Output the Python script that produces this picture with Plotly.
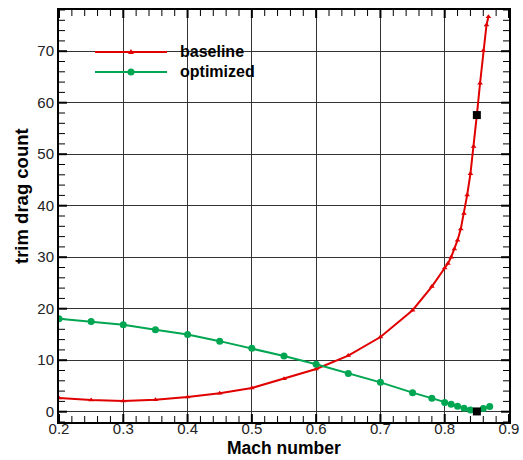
import plotly.graph_objects as go

# --- data ---
mach_base = [0.20, 0.25, 0.30, 0.35, 0.40, 0.45, 0.50, 0.55, 0.60, 0.65, 0.70, 0.75, 0.78,
             0.80, 0.805, 0.81, 0.815, 0.82, 0.825, 0.83, 0.835, 0.84, 0.845, 0.85,
             0.855, 0.86, 0.865, 0.868]
drag_base = [2.65, 2.26, 2.07, 2.3, 2.84, 3.6, 4.6, 6.4, 8.3, 10.9, 14.5, 19.7, 24.3,
             27.9, 28.8, 30.0, 31.6, 33.3, 35.5, 38.5, 42.1, 46.2, 51.5, 57.6,
             63.8, 70.1, 75.1, 76.7]

mach_opt = [0.20, 0.25, 0.30, 0.35, 0.40, 0.45, 0.50, 0.55, 0.60, 0.65, 0.70, 0.75, 0.78,
            0.80, 0.81, 0.82, 0.83, 0.84, 0.85, 0.86, 0.87]
drag_opt = [18.05, 17.5, 16.9, 15.9, 15.0, 13.7, 12.3, 10.8, 9.2, 7.4, 5.7, 3.7, 2.6,
            1.8, 1.45, 1.05, 0.65, 0.33, 0.05, 0.6, 1.0]

design_mach = [0.85, 0.85]
design_drag = [57.6, 0.05]

series_names = ["baseline", "optimized"]
x_title = "Mach number"
y_title = "trim drag count"
RED = "#e00000"
GREEN = "#00a651"
FONT = "Liberation Sans, Arial, Helvetica"

X_RANGE = [0.2, 0.9]
Y_RANGE = [-2, 78]
W, H = 523, 460
M = dict(l=59, r=14, t=10, b=38)
PW, PH = float(W - M["l"] - M["r"]), float(H - M["t"] - M["b"])
XPX = PW / (X_RANGE[1] - X_RANGE[0])   # pixels per x unit
YPX = PH / (Y_RANGE[1] - Y_RANGE[0])   # pixels per y unit

fig = go.Figure()

# inside tick marks on all four sides (built from the axis scale, drawn as one line trace each)
def tick_trace(vals, length, width, axis):
    xs, ys = [], []
    for v in vals:
        if axis == "x":
            d = length / YPX
            xs += [v, v, None, v, v, None]
            ys += [Y_RANGE[0], Y_RANGE[0] + d, None, Y_RANGE[1], Y_RANGE[1] - d, None]
        else:
            d = length / XPX
            ys += [v, v, None, v, v, None]
            xs += [X_RANGE[0], X_RANGE[0] + d, None, X_RANGE[1], X_RANGE[1] - d, None]
    fig.add_trace(go.Scatter(x=xs, y=ys, mode="lines", line=dict(color="black", width=width),
                             hoverinfo="skip", showlegend=False, cliponaxis=False))

x_major = [round(0.2 + 0.1 * i, 3) for i in range(8)]
x_minor = [round(0.2 + 0.02 * i, 3) for i in range(36) if i % 5]
y_major = [10 * i for i in range(8)]
y_minor = [2 * i for i in range(-1, 40) if i % 5]
tick_trace(x_major, 8, 2, "x")
tick_trace(x_minor, 6, 1, "x")
tick_trace(y_major, 8, 2, "y")
tick_trace(y_minor, 6, 1, "y")

fig.add_trace(go.Scatter(x=mach_base, y=drag_base, mode="lines+markers", name=series_names[0],
                         line=dict(color=RED, width=2),
                         marker=dict(symbol="triangle-up", size=5, color=RED),
                         showlegend=False))
fig.add_trace(go.Scatter(x=mach_opt, y=drag_opt, mode="lines+markers", name=series_names[1],
                         line=dict(color=GREEN, width=2),
                         marker=dict(symbol="circle", size=7, color=GREEN),
                         showlegend=False))
fig.add_trace(go.Scatter(x=design_mach, y=design_drag, mode="markers",
                         marker=dict(symbol="square", size=8, color="black"),
                         showlegend=False))

# manual legend (long sample lines as in the original)
fig.add_shape(type="rect", xref="paper", yref="paper", x0=(87 - 59) / PW, x1=(262 - 59) / PW,
              y0=1 - (88 - 10) / PH, y1=1 - (36 - 10) / PH,
              fillcolor="white", line=dict(width=0), layer="between")
rows = [(52, RED, series_names[0], "tri"), (72, GREEN, series_names[1], "circ")]
for ypx, col, name, sym in rows:
    yp = 1 - (ypx - 10) / PH
    fig.add_shape(type="line", xref="paper", yref="paper", x0=(95 - 59) / PW, x1=(167 - 59) / PW,
                  y0=yp, y1=yp, line=dict(color=col, width=2), layer="above")
    xc = (131 - 59) / PW
    if sym == "circ":
        fig.add_shape(type="circle", xref="paper", yref="paper", xsizemode="pixel", ysizemode="pixel",
                      xanchor=xc, yanchor=yp, x0=-3.5, x1=3.5, y0=-3.5, y1=3.5,
                      fillcolor=col, line=dict(width=0), layer="above")
    else:
        fig.add_shape(type="path", xref="paper", yref="paper", xsizemode="pixel", ysizemode="pixel",
                      xanchor=xc, yanchor=yp, path="M -3 -2 L 3 -2 L 0 3 Z",
                      fillcolor=col, line=dict(width=0), layer="above")
    fig.add_annotation(xref="paper", yref="paper", x=(178 - 59) / PW, y=yp, text=name,
                       showarrow=False, xanchor="left", yanchor="middle",
                       font=dict(family=FONT, size=16, color="black", weight="bold"))

# axis titles as annotations for precise placement
fig.add_annotation(xref="paper", yref="paper", x=0.5, y=-(460 - 422) / PH, text=x_title,
                   showarrow=False, xanchor="center", yanchor="bottom",
                   font=dict(family=FONT, size=17.5, color="black", weight="bold"))
fig.add_annotation(xref="paper", yref="paper", x=-(59 - 21) / PW, y=1 - (196 - 10) / PH, text=y_title,
                   showarrow=False, xanchor="center", yanchor="middle", textangle=-90,
                   font=dict(family=FONT, size=18.5, color="black", weight="bold"))

axis_common = dict(showline=True, linecolor="black", linewidth=2, mirror=True,
                   ticks="", showgrid=True, gridcolor="#333333", gridwidth=1, zeroline=False,
                   automargin=False, layer="above traces",
                   tickfont=dict(family=FONT, size=15, color="#222"))

fig.update_xaxes(range=X_RANGE, dtick=0.1, tick0=0.2, tickformat=".1f", ticklabelstandoff=-8,
                 **axis_common)
fig.update_yaxes(range=Y_RANGE, dtick=10, tick0=0, **axis_common)

fig.update_layout(width=W, height=H, margin=M,
                  plot_bgcolor="white", paper_bgcolor="white")

fig.write_html("out.html")
